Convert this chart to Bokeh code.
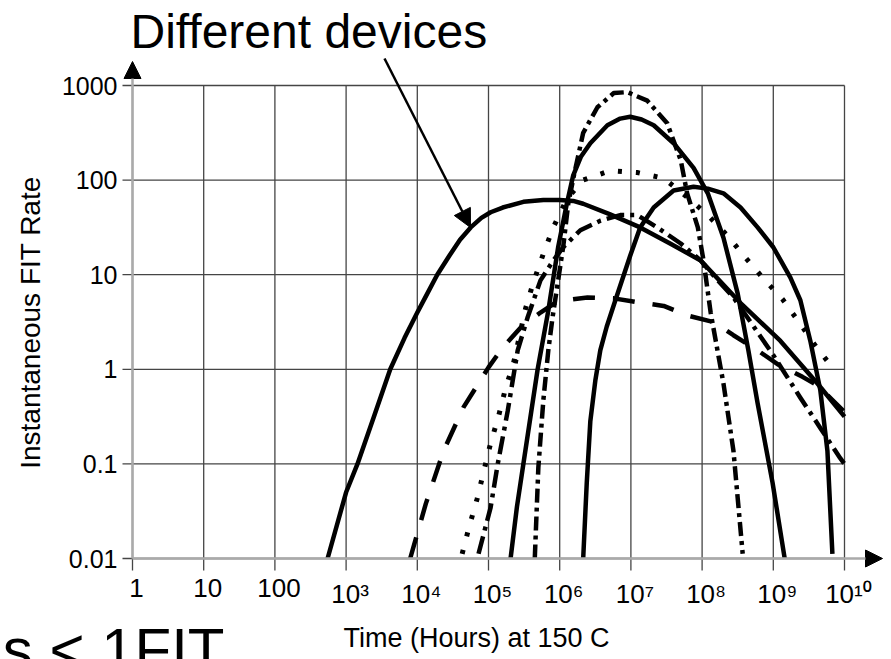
from bokeh.plotting import figure
from bokeh.models import Range1d, Arrow, NormalHead
from bokeh.embed import file_html
from bokeh.resources import INLINE
from bokeh.core.properties import value

# ---------------- tick values / labels ----------------
x_ticks = [1, 10, 100, 10**3, 10**4, 10**5, 10**6, 10**7, 10**8, 10**9, 10**10]
x_tick_labels = ["1", "10", "100", "10³", "10⁴", "10⁵", "10⁶", "10⁷", "10⁸", "10⁹", "10¹⁰"]
y_ticks = [0.01, 0.1, 1, 10, 100, 1000]
y_tick_labels = ["0.01", "0.1", "1", "10", "100", "1000"]

title_text = "Different devices"
x_title = "Time (Hours) at 150 C"
y_title = "Instantaneous FIT Rate"
footer_text = "ns < 1FIT"

# ---------------- curves (log10 hours, log10 FIT) ----------------
# A: solid, broad hump (peak ~65 at ~10^5.8)
a_lx = [2.74, 3.0, 3.16, 3.4, 3.62, 3.82, 4.0, 4.14, 4.28, 4.45, 4.6, 4.75, 4.9, 5.03, 5.2, 5.49, 5.77, 6.0, 6.19, 6.33, 6.7, 7.13, 7.55, 7.98, 8.54, 9.1, 9.62, 10.0]
a_ly = [-2.0, -1.3, -1.0, -0.48, 0.0, 0.33, 0.6, 0.8, 1.0, 1.2, 1.37, 1.5, 1.6, 1.66, 1.71, 1.77, 1.79, 1.79, 1.78, 1.75, 1.64, 1.5, 1.33, 1.15, 0.7, 0.3, -0.15, -0.5]
# B: solid, narrow (peak ~460 at 10^7)
b_lx = [5.31, 5.4, 5.49, 5.6, 5.69, 5.84, 5.98, 6.1, 6.19, 6.3, 6.43, 6.67, 6.85, 6.99, 7.15, 7.32, 7.6, 7.88, 8.08, 8.3, 8.5, 8.65, 8.78, 8.99, 9.16]
b_ly = [-2.0, -1.45, -1.0, -0.45, 0.0, 0.62, 1.3, 1.75, 2.05, 2.25, 2.39, 2.58, 2.65, 2.67, 2.64, 2.58, 2.39, 2.13, 1.86, 1.39, 0.8, 0.2, -0.36, -1.2, -2.0]
# C: solid, late (peak ~85 at ~10^7.9)
c_lx = [6.33, 6.38, 6.43, 6.5, 6.57, 6.66, 6.76, 6.99, 7.13, 7.32, 7.6, 7.88, 8.08, 8.3, 8.54, 8.78, 9.0, 9.24, 9.38, 9.52, 9.66, 9.76, 9.83]
c_ly = [-2.0, -1.2, -0.55, -0.12, 0.2, 0.45, 0.68, 1.2, 1.5, 1.71, 1.89, 1.93, 1.91, 1.86, 1.71, 1.5, 1.29, 0.97, 0.73, 0.3, -0.22, -0.86, -1.95]
# D: dotted (peak ~125 at ~10^6.8)
d_lx = [4.63, 4.73, 4.84, 4.93, 5.03, 5.14, 5.24, 5.35, 5.52, 5.63, 5.77, 5.91, 6.1, 6.33, 6.71, 7.09, 7.46, 7.79, 8.08, 8.36, 8.61, 8.86, 9.13, 9.36, 9.59, 9.83]
d_ly = [-1.95, -1.66, -1.37, -1.09, -0.78, -0.5, -0.2, 0.06, 0.64, 0.92, 1.22, 1.5, 1.8, 2.0, 2.1, 2.08, 2.02, 1.82, 1.63, 1.41, 1.18, 0.96, 0.74, 0.5, 0.25, 0.02]
# E: long dash (peak ~6 at ~10^6.4)
e_lx = [3.9, 4.12, 4.37, 4.65, 5.0, 5.2, 5.45, 5.73, 5.97, 6.39, 6.76, 7.09, 7.46, 7.79, 8.16, 8.44, 8.78, 9.07, 9.41, 9.62, 10.0]
e_ly = [-2.0, -1.42, -0.86, -0.4, 0.02, 0.23, 0.44, 0.6, 0.72, 0.76, 0.75, 0.71, 0.67, 0.57, 0.5, 0.36, 0.2, 0.05, -0.08, -0.17, -0.45]
# F: dash-dot (peak ~43 at ~10^6.9)
f_lx = [4.86, 5.03, 5.13, 5.27, 5.41, 5.55, 5.73, 5.91, 6.05, 6.29, 6.57, 6.85, 7.09, 7.37, 7.7, 7.98, 8.22, 8.44, 8.68, 9.0, 9.38, 9.66, 9.94, 10.0]
f_ly = [-1.95, -1.46, -1.0, -0.44, 0.2, 0.55, 0.94, 1.15, 1.29, 1.47, 1.57, 1.63, 1.63, 1.5, 1.33, 1.15, 0.94, 0.76, 0.5, 0.15, -0.3, -0.62, -0.94, -1.0]
# G: dash-dot, tallest (peak ~850 at ~10^6.9)
g_lx = [5.65, 5.7, 5.77, 5.84, 5.9, 5.97, 6.05, 6.12, 6.2, 6.33, 6.53, 6.76, 6.95, 7.23, 7.51, 7.7, 7.79, 7.94, 8.02, 8.12, 8.3, 8.44, 8.57]
g_ly = [-2.0, -1.04, -0.33, 0.2, 0.55, 0.9, 1.3, 1.75, 2.05, 2.5, 2.77, 2.92, 2.93, 2.84, 2.6, 2.21, 1.86, 1.5, 1.15, 0.6, -0.15, -0.86, -1.95]

# ---------------- geometry (page pixels) ----------------
W, H = 891, 659
X_ONE, DEC_X = 132, 71.2               # pixel of x=1, pixels per decade
Y_MIN, DEC_Y = 558, 94.6               # pixel of y=0.01, pixels per decade


def xd(px):
    return 10 ** ((px - X_ONE) / DEC_X)


def yd(py):
    return 10 ** (-2 + (Y_MIN - py) / DEC_Y)


FONT = "Liberation Sans"
TICK_FONT = "Liberation Sans, Noto Sans"

p = figure(width=W, height=H, x_axis_type="log", y_axis_type="log",
           x_range=Range1d(xd(0), xd(W)), y_range=Range1d(yd(H), yd(0)),
           x_axis_location=None, y_axis_location=None,
           output_backend="svg", toolbar_location=None,
           min_border_left=0, min_border_right=0, min_border_top=0, min_border_bottom=0)
p.outline_line_color = None
p.background_fill_color = "white"
p.border_fill_color = "white"
p.xgrid.visible = False
p.ygrid.visible = False

nx, ny = len(x_ticks), len(y_ticks)
x_lo, x_hi = x_ticks[0], x_ticks[-1]
y_lo, y_hi = y_ticks[0], y_ticks[-1]

# grid
p.segment(x0=x_ticks, y0=[y_lo] * nx, x1=x_ticks, y1=[y_hi] * nx,
          line_color="#454545", line_width=1.3)
p.segment(x0=[x_lo] * ny, y0=y_ticks, x1=[x_hi] * ny, y1=y_ticks,
          line_color="#454545", line_width=1.3)
# tick marks
p.segment(x0=x_ticks, y0=[y_lo] * nx, x1=x_ticks, y1=[yd(570)] * nx,
          line_color="#454545", line_width=1.3)
p.segment(x0=[xd(122)] * ny, y0=y_ticks, x1=[x_lo] * ny, y1=y_ticks,
          line_color="#454545", line_width=1.3)

# axes with arrow heads
p.add_layout(Arrow(end=NormalHead(size=17, fill_color="black", line_color="black", line_width=1),
                   x_start=x_lo, y_start=y_lo, x_end=x_lo, y_end=yd(61),
                   line_color="#aaaaaa", line_width=2.5))
p.add_layout(Arrow(end=NormalHead(size=17, fill_color="black", line_color="black", line_width=1),
                   x_start=x_lo, y_start=y_lo, x_end=xd(882), y_end=y_lo,
                   line_color="#aaaaaa", line_width=2.5))

# tick labels
p.text(x=x_ticks, y=[yd(578)] * nx, text=x_tick_labels, x_offset=4,
       text_font=value(TICK_FONT), text_font_size=value("26px"), text_color="black",
       text_align="center", text_baseline="top")
p.text(x=[xd(117)] * ny, y=y_ticks, text=y_tick_labels,
       text_font=value(TICK_FONT), text_font_size=value("25px"), text_color="black",
       text_align="right", text_baseline="middle")


# curves
def draw(lx, ly, dash, width=4.5):
    p.line([10 ** v for v in lx], [10 ** v for v in ly], line_color="black",
           line_width=width, line_dash=dash, line_cap="butt", line_join="round")


draw(e_lx, e_ly, "22 18")
draw(d_lx, d_ly, "4 14", width=5)
draw(f_lx, f_ly, "18 6 4 6")
draw(g_lx, g_ly, "14 5 4 5")
draw(a_lx, a_ly, "solid")
draw(b_lx, b_ly, "solid")
draw(c_lx, c_ly, "solid")

# texts
p.text(x=[xd(130)], y=[yd(4)], text=[title_text], text_font=value(FONT),
       text_font_size=value("48px"), text_color="black",
       text_align="left", text_baseline="top")
p.add_layout(Arrow(end=NormalHead(size=18, fill_color="black", line_color="black", line_width=1),
                   x_start=xd(384), y_start=yd(58), x_end=xd(470), y_end=yd(227),
                   line_color="black", line_width=2.5))
p.text(x=[xd(30)], y=[yd(322)], text=[y_title], text_font=value(FONT),
       text_font_size=value("28px"), text_color="black", angle=1.5707963267948966,
       text_align="center", text_baseline="middle")
p.text(x=[xd(476)], y=[yd(622)], text=[x_title], text_font=value(FONT),
       text_font_size=value("27px"), text_color="black",
       text_align="center", text_baseline="top")
p.text(x=[xd(224)], y=[yd(615)], text=[footer_text], text_font=value(FONT),
       text_font_size=value("60px"), text_color="black",
       text_align="right", text_baseline="top")

open("out.html", "w").write(file_html(p, INLINE))
